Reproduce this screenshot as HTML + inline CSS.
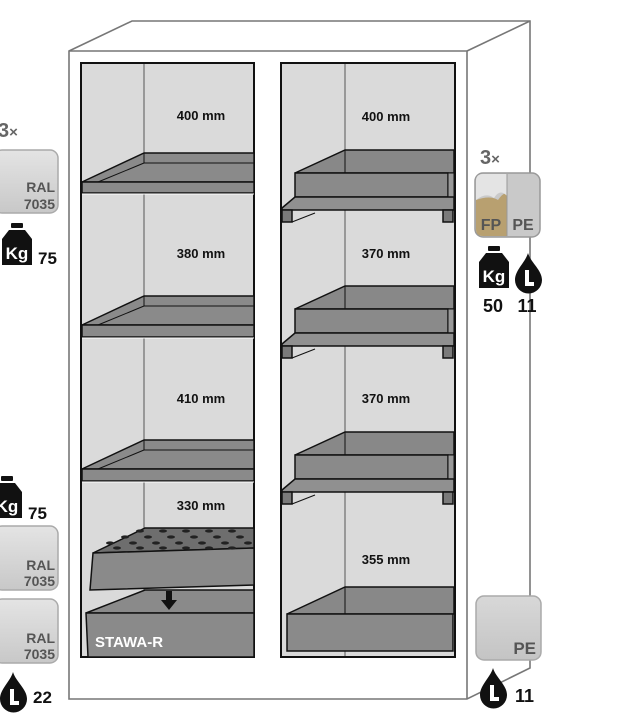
<!DOCTYPE html>
<html><head><meta charset="utf-8"><style>
html,body{margin:0;padding:0;background:#fff;width:629px;height:718px;overflow:hidden}
svg{display:block}
text{font-family:"Liberation Sans",sans-serif;font-weight:bold}
</style></head><body>
<svg width="629" height="718" viewBox="0 0 629 718" xmlns="http://www.w3.org/2000/svg">
<defs>
<linearGradient id="ral" x1="0" y1="0" x2="0" y2="1"><stop offset="0" stop-color="#e4e4e4"/><stop offset="1" stop-color="#c8c8c8"/></linearGradient>
<linearGradient id="pe" x1="0" y1="0" x2="0" y2="1"><stop offset="0" stop-color="#d8d8d8"/><stop offset="1" stop-color="#c4c4c4"/></linearGradient>
<g id="kg"><rect x="9" y="0" width="12" height="5" rx="1" fill="#111"/><path d="M7 7 H23 L30 16 V42 H0 V16 Z" fill="#111"/><text x="15" y="36" font-size="17" fill="#fff" text-anchor="middle">Kg</text></g>
<g id="drop"><path d="M13 0 C16 10 27 17 27 27 A13.5 13.5 0 0 1 0 27 C0 17 10 10 13 0 Z" fill="#111"/><path d="M10 17 V33 H19 V29 H14 V17 Z" fill="#fff"/></g>
</defs>

<!-- cabinet -->
<g fill="none" stroke="#777" stroke-width="1.6">
<path d="M69 51 L132 21 H530 V668 L467 699 H69 Z"/>
<path d="M69 51 H467 V699"/>
<path d="M467 51 L530 21"/>
</g>

<!-- compartments -->
<rect x="81" y="63" width="173" height="594" fill="#dadada" stroke="#111" stroke-width="2"/>
<rect x="281" y="63" width="174" height="594" fill="#dadada" stroke="#111" stroke-width="2"/>
<line x1="144" y1="64" x2="144" y2="656" stroke="#555" stroke-width="1"/>
<line x1="345" y1="64" x2="345" y2="656" stroke="#555" stroke-width="1"/>

<!-- left shelves -->
<g stroke="#111" stroke-width="1.5">
<path d="M144 153 H254 V182 H82 Z" fill="#8a8a8a"/><path d="M144 153 V163 H254" fill="none" stroke-width="1"/><path d="M98 182 L144 163" fill="none" stroke-width="1"/>
<rect x="82" y="182" width="172" height="11" fill="#8a8a8a"/>
<path d="M144 296 H254 V325 H82 Z" fill="#8a8a8a"/><path d="M144 296 V306 H254" fill="none" stroke-width="1"/><path d="M98 325 L144 306" fill="none" stroke-width="1"/>
<rect x="82" y="325" width="172" height="12" fill="#8a8a8a"/>
<path d="M144 440 H254 V469 H82 Z" fill="#8a8a8a"/><path d="M144 440 V450 H254" fill="none" stroke-width="1"/><path d="M98 469 L144 450" fill="none" stroke-width="1"/>
<rect x="82" y="469" width="172" height="12" fill="#8a8a8a"/>
</g>
<line x1="82" y1="194" x2="254" y2="194" stroke="#fff" stroke-width="1"/>
<line x1="82" y1="338" x2="254" y2="338" stroke="#fff" stroke-width="1"/>
<line x1="82" y1="482" x2="254" y2="482" stroke="#fff" stroke-width="1"/>

<!-- sump + insert -->
<g stroke="#111" stroke-width="1.5">
<path d="M145 590 H254 V613 H86 Z" fill="#8a8a8a"/>
<path d="M86 613 H254 V657 H88 Z" fill="#8a8a8a"/>
<path d="M145 528 H254 V548 L93 553 Z" fill="#6e6e6e"/>
<path d="M93 553 L254 548 V585 L90 590 Z" fill="#8a8a8a"/>
</g>
<g fill="#222">
<ellipse cx="140" cy="531" rx="4" ry="1.6"/><ellipse cx="163" cy="531" rx="4" ry="1.6"/><ellipse cx="186" cy="531" rx="4" ry="1.6"/><ellipse cx="209" cy="531" rx="4" ry="1.6"/><ellipse cx="232" cy="531" rx="4" ry="1.6"/>
<ellipse cx="125" cy="537" rx="4" ry="1.6"/><ellipse cx="148" cy="537" rx="4" ry="1.6"/><ellipse cx="171" cy="537" rx="4" ry="1.6"/><ellipse cx="194" cy="537" rx="4" ry="1.6"/><ellipse cx="217" cy="537" rx="4" ry="1.6"/><ellipse cx="240" cy="537" rx="4" ry="1.6"/>
<ellipse cx="110" cy="543" rx="4" ry="1.6"/><ellipse cx="133" cy="543" rx="4" ry="1.6"/><ellipse cx="156" cy="543" rx="4" ry="1.6"/><ellipse cx="179" cy="543" rx="4" ry="1.6"/><ellipse cx="202" cy="543" rx="4" ry="1.6"/><ellipse cx="225" cy="543" rx="4" ry="1.6"/><ellipse cx="248" cy="543" rx="4" ry="1.6"/>
<ellipse cx="117" cy="548" rx="4" ry="1.6"/><ellipse cx="140" cy="548" rx="4" ry="1.6"/><ellipse cx="163" cy="548" rx="4" ry="1.6"/><ellipse cx="186" cy="548" rx="4" ry="1.6"/><ellipse cx="209" cy="548" rx="4" ry="1.6"/><ellipse cx="232" cy="548" rx="4" ry="1.6"/>
</g>
<path d="M166 591 H172 V600 H177 L169 610 L161 600 H166 Z" fill="#111"/>
<text x="95" y="647" font-size="15" fill="#fff">STAWA-R</text>

<!-- right trays -->
<g stroke="#111" stroke-width="1.5">
<g id="rt">
<path d="M345 150 H454 V173 H295 Z" fill="#888"/><line x1="345" y1="150" x2="345" y2="173" stroke-width="1"/>
<rect x="295" y="173" width="153" height="24" fill="#8a8a8a"/>
<rect x="448" y="173" width="6" height="24" fill="#999" stroke-width="1"/>
<path d="M282 208 L295 197 H454 V210 H282 Z" fill="#909090"/>
<rect x="282" y="210" width="10" height="12" fill="#7a7a7a"/>
<rect x="443" y="210" width="10" height="12" fill="#7a7a7a"/>
<path d="M292 222 L315 213" fill="none" stroke-width="1"/>
</g>
<use href="#rt" y="136"/>
<use href="#rt" y="282"/>
<path d="M345 587 H454 V614 H287 Z" fill="#888"/><line x1="345" y1="587" x2="345" y2="614" stroke-width="1"/>
<rect x="287" y="614" width="166" height="37" fill="#8a8a8a"/>
</g>

<!-- labels -->
<g font-size="13" fill="#111" text-anchor="middle">
<text x="201" y="120">400 mm</text><text x="201" y="258">380 mm</text><text x="201" y="403">410 mm</text><text x="201" y="510">330 mm</text>
<text x="386" y="121">400 mm</text><text x="386" y="258">370 mm</text><text x="386" y="403">370 mm</text><text x="386" y="564">355 mm</text>
</g>

<!-- left icons -->
<text x="-2" y="137" font-size="20" fill="#666">3<tspan font-size="15">×</tspan></text>
<g>
<rect x="-6" y="150" width="64" height="63" rx="8" fill="url(#ral)" stroke="#aaa" stroke-width="1.5"/>
<text x="55" y="192" font-size="14" font-weight="normal" fill="#555" text-anchor="end">RAL</text>
<text x="55" y="209" font-size="14" fill="#555" text-anchor="end">7035</text>
</g>
<use href="#kg" x="2" y="223"/>
<text x="38" y="264" font-size="17" fill="#111">75</text>
<use href="#kg" x="-8" y="476"/>
<text x="28" y="519" font-size="17" fill="#111">75</text>
<rect x="-6" y="526" width="64" height="64" rx="8" fill="url(#ral)" stroke="#aaa" stroke-width="1.5"/>
<text x="55" y="570" font-size="14" font-weight="normal" fill="#555" text-anchor="end">RAL</text>
<text x="55" y="586" font-size="14" fill="#555" text-anchor="end">7035</text>
<rect x="-6" y="599" width="64" height="64" rx="8" fill="url(#ral)" stroke="#aaa" stroke-width="1.5"/>
<text x="55" y="643" font-size="14" font-weight="normal" fill="#555" text-anchor="end">RAL</text>
<text x="55" y="659" font-size="14" fill="#555" text-anchor="end">7035</text>
<use href="#drop" x="0" y="672"/>
<text x="33" y="703" font-size="17" fill="#111">22</text>

<!-- right icons -->
<text x="480" y="164" font-size="20" fill="#666">3<tspan font-size="15">×</tspan></text>
<rect x="475" y="173" width="65" height="64" rx="8" fill="#c9c9c9" stroke="#999" stroke-width="1.5"/>
<path d="M476 200 Q490 195 498 200 Q505 190 507 196 V236 H483 Q476 236 476 229 Z" fill="#b8a070"/>
<path d="M476 181 Q476 174 483 174 H507 V196 Q500 188 494 198 Q486 192 476 200 Z" fill="#e4e4e4"/>
<line x1="507" y1="174" x2="507" y2="236" stroke="#999" stroke-width="1"/>
<text x="491" y="230" font-size="16" fill="#555" text-anchor="middle">FP</text>
<text x="523" y="230" font-size="16" fill="#555" text-anchor="middle">PE</text>
<use href="#kg" x="479" y="246"/>
<use href="#drop" x="515" y="253"/>
<text x="493" y="312" font-size="18" fill="#111" text-anchor="middle">50</text>
<text x="527" y="312" font-size="18" fill="#111" text-anchor="middle">11</text>
<rect x="476" y="596" width="65" height="64" rx="8" fill="url(#pe)" stroke="#aaa" stroke-width="1.5"/>
<text x="536" y="654" font-size="17" fill="#555" text-anchor="end">PE</text>
<use href="#drop" x="480" y="668"/>
<text x="515" y="702" font-size="18" fill="#111">11</text>
</svg>
</body></html>
